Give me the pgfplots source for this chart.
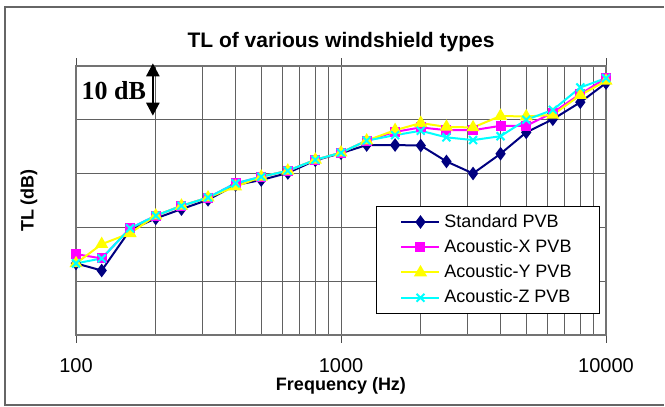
\documentclass[border=0pt]{standalone}
\usepackage{pgfplots}
\pgfplotsset{compat=1.18}
\usepackage{fontspec}
\setmainfont{Liberation Sans}
\newfontfamily\serifb{Liberation Serif}
\usetikzlibrary{arrows.meta}
\definecolor{stdblue}{RGB}{0,0,128}
\definecolor{accx}{RGB}{255,0,255}
\definecolor{accy}{RGB}{255,255,0}
\definecolor{accz}{RGB}{0,255,255}
\begin{document}
\begin{tikzpicture}
\path (-38pt,-36pt) rectangle (294.5pt,167.5pt);
\begin{axis}[
  at={(0,0)}, anchor=south west,
  scale only axis, width=265pt, height=134.5pt,
  xmode=log, xmin=100, xmax=10000,
  ymin=0, ymax=50, ytick={0,10,...,50}, yticklabels={},
  ytick style={draw=none},
  xtick={100,1000,10000}, xticklabels={100,1000,10000},
  minor xtick={200,300,400,500,600,700,800,900,2000,3000,4000,5000,6000,7000,8000,9000},
  xtick align=outside, major tick length=4pt, minor tick length=0pt,
  xtick style={black!70, line width=0.5pt},
  xmajorgrids, xminorgrids, ymajorgrids,
  grid style={black!62, line width=0.5pt},
  minor grid style={black!62, line width=0.5pt},
  axis line style={black!55, line width=0.6pt},
  /pgf/number format/assume math mode=true,
  tick label style={font=\fontsize{10}{12}\selectfont},
  xticklabel style={yshift=-4pt},
  xlabel={\bfseries Frequency (Hz)},
  xlabel style={font=\fontsize{9}{11}\selectfont, at={(axis description cs:0.5,0)}, anchor=center, yshift=-25.5pt},
  ylabel={\bfseries TL (dB)},
  ylabel style={font=\fontsize{9}{11}\selectfont, at={(axis description cs:-0.0887,0.5)}, anchor=center},
  title={\bfseries TL of various windshield types},
  title style={font=\fontsize{10.5}{13}\selectfont, at={(axis description cs:0.5,1)}, anchor=center, yshift=5.75pt},
  clip=false,
  legend style={at={(rel axis cs:0.566,0.48)}, anchor=north west, draw=black, line width=0.5pt,
    font=\fontsize{9}{11}\selectfont, inner xsep=12pt, inner ysep=1.5pt, row sep=0pt,
    nodes={inner ysep=2.3pt}},
  legend cell align=left,
  legend image code/.code={\draw[mark repeat=2,mark phase=2] plot coordinates {(0pt,0pt)(9.5pt,0pt)(19pt,0pt)};},
]
\addplot[stdblue, line width=1pt, mark=diamond*, mark size=2.6pt, mark options={solid, fill=stdblue}] coordinates {
(100,13.31)(125,11.99)(160,19.53)(200,21.67)(250,23.40)(315,25.13)(400,27.88)(500,28.80)(630,30.12)(800,32.46)(1000,33.79)(1250,35.31)(1600,35.31)(2000,35.21)(2500,32.26)(3150,30.02)(4000,33.69)(5000,37.66)(6300,40.10)(8000,43.26)(10000,46.83)};
\addlegendentry{Standard PVB}
\addplot[accx, line width=1pt, mark=square*, mark size=2pt, mark options={solid, fill=accx}] coordinates {
(100,15.04)(125,14.23)(160,19.83)(200,22.18)(250,24.01)(315,25.54)(400,28.19)(500,29.41)(630,30.53)(800,32.56)(1000,33.89)(1250,36.13)(1600,37.76)(2000,38.58)(2500,38.07)(3150,38.07)(4000,38.88)(5000,38.88)(6300,41.33)(8000,44.79)(10000,47.74)};
\addlegendentry{Acoustic-X PVB}
\addplot[accy, line width=1pt, mark=triangle*, mark size=2.8pt, mark options={solid, fill=accy}] coordinates {
(100,13.31)(125,16.88)(160,18.92)(200,22.18)(250,24.01)(315,25.54)(400,27.57)(500,29.41)(630,30.53)(800,32.56)(1000,33.89)(1250,36.13)(1600,38.07)(2000,39.39)(2500,38.68)(3150,38.58)(4000,40.71)(5000,40.61)(6300,40.92)(8000,44.59)(10000,47.23)};
\addlegendentry{Acoustic-Y PVB}
\addplot[accz, line width=1pt, mark=x, mark size=2.8pt, mark options={solid, line width=1pt}] coordinates {
(100,13.31)(125,14.23)(160,19.83)(200,22.18)(250,24.01)(315,25.54)(400,28.19)(500,29.41)(630,30.53)(800,32.56)(1000,33.89)(1250,36.13)(1600,37.15)(2000,37.96)(2500,36.74)(3150,36.23)(4000,36.95)(5000,40.00)(6300,41.84)(8000,46.01)(10000,47.74)};
\addlegendentry{Acoustic-Z PVB}
\draw[black, line width=1.2pt, {Triangle[width=6.5pt,length=6.5pt]}-{Triangle[width=6.5pt,length=6.5pt]}] (axis cs:195,50.5) -- (axis cs:195,40.76);
\node[font=\serifb\bfseries\fontsize{13}{15}\selectfont, anchor=center] at (axis cs:139,45.5) {10 dB};
\end{axis}
\draw[black!60, line width=1pt] (294pt,164pt) -- (-35.5pt,164pt) -- (-35.5pt,-35pt) -- (294pt,-35pt);
\end{tikzpicture}
\end{document}
